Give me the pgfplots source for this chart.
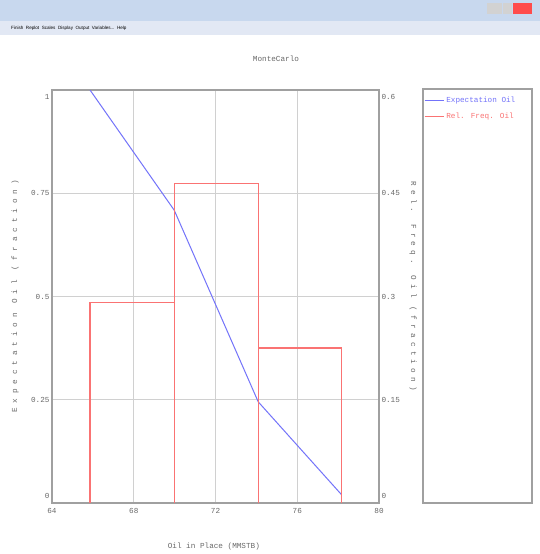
\documentclass[border=0pt]{standalone}
\usepackage{fontspec}
\setmainfont{Liberation Mono}
\newfontfamily\menufont{Liberation Sans}
\newfontfamily\spacedmono[LetterSpace=55]{Liberation Mono}
\newfontfamily\widemono[LetterSpace=64]{Liberation Mono}
\usepackage{pgfplots}
\pgfplotsset{compat=1.18}
\definecolor{expblue}{RGB}{115,115,250}
\definecolor{freqred}{RGB}{250,115,115}
\definecolor{gridgray}{RGB}{208,208,208}
\definecolor{framegray}{RGB}{160,160,160}
\definecolor{labelgray}{RGB}{105,105,105}
\definecolor{titlebar}{RGB}{200,216,238}
\definecolor{menubar}{RGB}{226,232,244}
\newcommand\chartfont{\fontsize{7.7}{9}\selectfont}
% end tick labels sit inside the frame, as in the reference
\newcommand\lowlab[1]{\smash{\raisebox{-9.5bp}{#1}}}
\newcommand\highlab[1]{\smash{\raisebox{5bp}{#1}}}

\pgfplotsset{
  mc/.style={
    at={(52bp,-503bp)}, anchor=south west,
    scale only axis, width=327bp, height=413bp,
    xmin=64, xmax=80,
    major tick length=0pt,
    tick label style={font=\chartfont, text=labelgray},
    label style={font=\chartfont, text=labelgray},
    /pgf/number format/assume math mode=true,
    axis line style={framegray, line width=1.3pt},
  },
}

\begin{document}
\begin{tikzpicture}[x=1bp, y=-1bp]
\useasboundingbox[fill=white] (0,0) rectangle (540,554);

% window chrome
\fill[titlebar] (0,0) rectangle (540,21);
\fill[menubar] (0,21) rectangle (540,35);
\fill[gray!35] (487,3) rectangle (502,14);
\fill[gray!35] (503,3) rectangle (512,14);
\fill[red!70!white] (513,3) rectangle (532,14);
\node[anchor=west, inner sep=0pt, font=\menufont\fontsize{4.6}{5}\selectfont]
  at (11,28.5) {Finish\ \ Replot\ \ Scales\ \ Display\ \ Output\ \ Variables...\ \ Help};

% legend frame
\draw[framegray, line width=1.3pt] (423,89) rectangle (532,503);

\begin{axis}[mc,
    ymin=0, ymax=1,
    xtick={64,68,72,76,80},
    ytick={0,0.25,0.5,0.75,1},
    yticklabels={\highlab{0},0.25,0.5,0.75,\lowlab{1}},
    grid=major, grid style={gridgray, line width=1.3pt},
    title={MonteCarlo},
    title style={font=\chartfont, text=labelgray, at={(0.685,1.06)}, anchor=center},
    xlabel={Oil in Place (MMSTB)},
    xlabel style={at={(0.495,-0.1065)}, anchor=center},
    ylabel={\widemono Expectation Oil (fraction)},
    ylabel style={at={(-0.113,0.5)}, anchor=center},
    xticklabel style={yshift=-2bp},
    yticklabel style={xshift=1bp},
]
\addplot[expblue, line width=1pt] coordinates {
  (65.86,1) (69.98,0.709) (74.09,0.245) (78.17,0.02)
};
\end{axis}

\begin{axis}[mc,
    ymin=0, ymax=0.6,
    ytick={0,0.15,0.3,0.45,0.6},
    yticklabels={\highlab{0},0.15,0.3,0.45,\lowlab{0.6}},
    hide x axis,
    axis y line*=right,
    ylabel={\spacedmono Rel. Freq. Oil (fraction)},
    ylabel style={at={(1.104,0.525)}, anchor=center, rotate=180},
    yticklabel style={xshift=-1bp},
    legend style={at={(1.137,0.988)}, anchor=north west, draw=none, fill=none,
                  font=\chartfont, inner sep=0pt, row sep=5bp,
                  cells={anchor=west}},
    legend image code/.code={\draw[#1] (0bp,0bp) -- (19bp,0bp);},
]
\addlegendimage{expblue, line width=1.3pt}
\addlegendentry{\textcolor{expblue}{Expectation Oil}}
\addplot[freqred, line width=1.3pt] coordinates {
  (65.86,0) (65.86,0.291) (69.98,0.291) (69.98,0)
  (69.98,0.464) (74.09,0.464) (74.09,0)
  (74.09,0.225) (78.17,0.225) (78.17,0)
};
\addlegendentry{\textcolor{freqred}{Rel. Freq. Oil}}
\end{axis}
\end{tikzpicture}
\end{document}
